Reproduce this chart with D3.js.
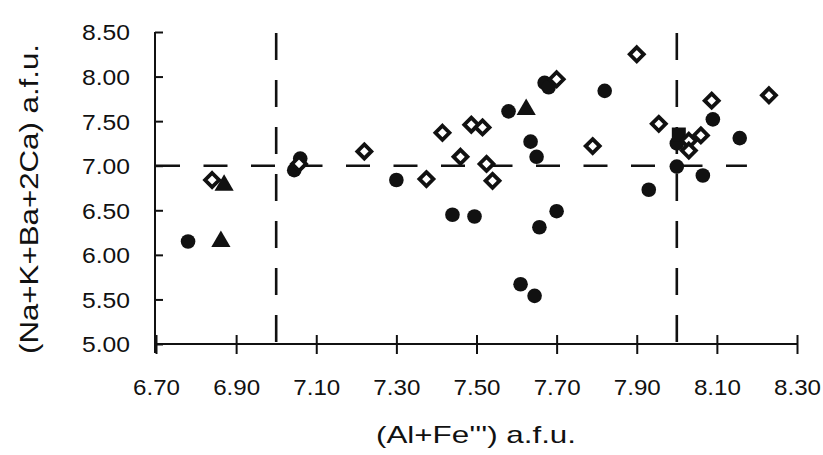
<!DOCTYPE html>
<html><head><meta charset="utf-8">
<script src="https://cdn.jsdelivr.net/npm/d3@7"></script>
<style>
html,body{margin:0;padding:0;background:#fff;}
svg{display:block;}
text{font-family:"Liberation Sans",Arial,Helvetica,sans-serif;fill:#111;}
</style></head>
<body>
<svg id="chart" width="823" height="455"></svg>
<script>
// ---- data ----
const xTicks = [6.70, 6.90, 7.10, 7.30, 7.50, 7.70, 7.90, 8.10, 8.30];
const yTicks = [5.00, 5.50, 6.00, 6.50, 7.00, 7.50, 8.00, 8.50];
const xTitle = "(Al+Fe''') a.f.u.";
const yTitle = "(Na+K+Ba+2Ca) a.f.u.";

// filled circles [x, y]
const circlesX = [6.78, 7.06, 7.045, 7.30, 7.44, 7.495, 7.58, 7.635, 7.65, 7.67, 7.68, 7.82, 7.61, 7.645, 7.657, 7.70, 7.93, 8.00, 8.00, 8.065, 8.09, 8.157];
const circlesY = [6.15, 7.08, 6.95, 6.84, 6.45, 6.43, 7.61, 7.27, 7.10, 7.93, 7.88, 7.84, 5.67, 5.54, 6.31, 6.49, 6.73, 7.25, 6.99, 6.89, 7.52, 7.31];
// open diamonds
const diamondsX = [6.84, 7.057, 7.22, 7.375, 7.415, 7.46, 7.487, 7.515, 7.525, 7.54, 7.70, 7.79, 7.90, 7.955, 8.03, 8.03, 8.06, 8.087, 8.23];
const diamondsY = [6.84, 7.02, 7.16, 6.85, 7.37, 7.10, 7.46, 7.43, 7.02, 6.83, 7.97, 7.22, 8.25, 7.47, 7.28, 7.17, 7.34, 7.73, 7.79];
// filled triangles
const trianglesX = [6.87, 6.862, 7.624];
const trianglesY = [6.78, 6.15, 7.63];
// filled square
const squaresX = [8.005];
const squaresY = [7.35];

// reference (dashed) lines
const vLinesX = [7.00, 8.00];
const hLineY = 7.00;
const hLineXRange = [6.70, 8.175];

// ---- drawing ----
const svg = d3.select("#chart");
const x = d3.scaleLinear().domain([6.70, 8.30]).range([156, 797]);
const y = d3.scaleLinear().domain([5.00, 8.50]).range([344, 32]);

const fmt = d3.format(".2f");

// dashed reference lines
const g = svg.append("g");
vLinesX.forEach(v => {
  g.append("line")
    .attr("x1", x(v)).attr("x2", x(v))
    .attr("y1", y(8.50) + 1).attr("y2", y(5.00))
    .attr("stroke", "#111").attr("stroke-width", 2.6)
    .attr("stroke-dasharray", "27,20");
});
g.append("line")
  .attr("x1", x(hLineXRange[0])).attr("x2", x(hLineXRange[1]))
  .attr("y1", y(hLineY)).attr("y2", y(hLineY))
  .attr("stroke", "#111").attr("stroke-width", 2.6)
  .attr("stroke-dasharray", "24,23.5");

// axes
const xAxis = d3.axisBottom(x).tickValues(xTicks).tickFormat(fmt).tickSizeInner(0).tickSizeOuter(0);
const xg = svg.append("g").attr("transform", `translate(0,${y(5.00)})`).call(xAxis);
xg.select(".domain").attr("stroke", "#111").attr("stroke-width", 2)
  .attr("d", `M${x(6.70)},0H${x(8.30)}`);
xg.selectAll(".tick line").attr("y1", -9).attr("y2", 10).attr("stroke", "#111").attr("stroke-width", 2);
xg.selectAll(".tick text")
  .attr("y", 51).attr("dy", 0)
  .style("font-size", "22px")
  .attr("textLength", 47).attr("lengthAdjust", "spacingAndGlyphs");

const yAxis = d3.axisLeft(y).tickValues(yTicks).tickFormat(fmt).tickSizeInner(0).tickSizeOuter(0);
const yg = svg.append("g").attr("transform", `translate(${x(6.70) - 1},0)`).call(yAxis);
yg.select(".domain").attr("stroke", "#111").attr("stroke-width", 2)
  .attr("d", `M0,${y(8.50)}V${y(5.00) + 9}`);
yg.selectAll(".tick line").attr("x1", 0).attr("x2", 8).attr("stroke", "#111").attr("stroke-width", 2);
yg.selectAll(".tick text")
  .attr("x", -25).attr("dy", "0.36em")
  .style("font-size", "22px")
  .attr("textLength", 48).attr("lengthAdjust", "spacingAndGlyphs");

// titles
svg.append("text")
  .attr("x", 476).attr("y", 443)
  .attr("text-anchor", "middle")
  .style("font-size", "24px")
  .attr("textLength", 200).attr("lengthAdjust", "spacingAndGlyphs")
  .text(xTitle);
svg.append("text")
  .attr("transform", `translate(38,199) rotate(-90)`)
  .attr("text-anchor", "middle")
  .style("font-size", "26px")
  .attr("textLength", 310).attr("lengthAdjust", "spacingAndGlyphs")
  .text(yTitle);

// markers
const circles = circlesX.map((v, i) => [v, circlesY[i]]);
const diamonds = diamondsX.map((v, i) => [v, diamondsY[i]]);
const triangles = trianglesX.map((v, i) => [v, trianglesY[i]]);
const squares = squaresX.map((v, i) => [v, squaresY[i]]);

const mg = svg.append("g");
mg.selectAll("circle.c").data(circles).join("circle")
  .attr("class", "c")
  .attr("cx", d => x(d[0])).attr("cy", d => y(d[1]))
  .attr("r", 7.3).attr("fill", "#111");

const triSym = d3.symbol().type(d3.symbolTriangle).size(160);
mg.selectAll("path.t").data(triangles).join("path")
  .attr("class", "t")
  .attr("d", triSym)
  .attr("transform", d => `translate(${x(d[0])},${y(d[1])})`)
  .attr("fill", "#111");

mg.selectAll("rect.s").data(squares).join("rect")
  .attr("class", "s")
  .attr("x", d => x(d[0]) - 7).attr("y", d => y(d[1]) - 7)
  .attr("width", 14).attr("height", 14)
  .attr("fill", "#111");

const dh = 7;
mg.selectAll("path.d").data(diamonds).join("path")
  .attr("class", "d")
  .attr("d", `M0,${-dh}L${dh},0L0,${dh}L${-dh},0Z`)
  .attr("transform", d => `translate(${x(d[0])},${y(d[1])})`)
  .attr("fill", "#fff").attr("stroke", "#111").attr("stroke-width", 3.8)
  .attr("stroke-linejoin", "miter");
</script>
</body></html>
